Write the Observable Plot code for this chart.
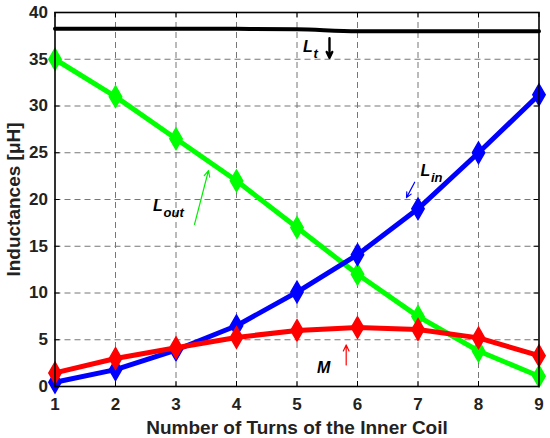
<!DOCTYPE html>
<html>
<head>
<meta charset="utf-8">
<script src="https://cdn.jsdelivr.net/npm/d3@7"></script>
<script src="https://cdn.jsdelivr.net/npm/@observablehq/plot@0.6"></script>
<style>
  html, body { margin: 0; padding: 0; background: #fff; }
  #chart { width: 550px; height: 438px; }
</style>
</head>
<body>
<div id="chart"></div>
<script>
// ---- data ----
const turns = [1, 2, 3, 4, 5, 6, 7, 8, 9];
const Lt   = [38.25, 38.25, 38.25, 38.25, 38.2, 38.0, 38.0, 38.0, 38.0];
const Lout = [35.0, 31.0, 26.5, 22.0, 17.0, 12.0, 7.5, 3.8, 1.1];
const Lin  = [0.45, 1.8, 3.9, 6.5, 10.1, 14.1, 19.0, 25.0, 31.2];
const M    = [1.45, 3.0, 4.15, 5.25, 6.0, 6.3, 6.1, 5.2, 3.3];

const xTicks = [1, 2, 3, 4, 5, 6, 7, 8, 9];
const yTicks = [0, 5, 10, 15, 20, 25, 30, 35, 40];
const xTitle = "Number of Turns of the Inner Coil";
const yTitle = "Inductances [\u03bcH]";

// annotation labels: main letter, subscript, anchor point (data units)
const labels = [
  {main: "L", sub: "t",   x: 5.10, y: 35.75},
  {main: "L", sub: "out", x: 2.62, y: 18.82},
  {main: "L", sub: "in",  x: 7.04, y: 22.46},
  {main: "M", sub: "",    x: 5.33, y: 1.47}
];
const arrows = [
  {x1: 5.537, y1: 37.25, x2: 5.537, y2: 35.15, color: "#000000", w: 2.4},
  {x1: 3.306, y1: 17.33, x2: 3.537, y2: 23.1,  color: "#00ee00", w: 1.2},
  {x1: 6.945, y1: 21.85, x2: 6.81,  y2: 20.2,  color: "#0000ff", w: 1.2},
  {x1: 5.813, y1: 2.3,   x2: 5.813, y2: 4.45,  color: "#ff0000", w: 1.2}
];

const series = (vals) => turns.map((t, i) => ({x: t, y: vals[i]}));
const dLt = series(Lt), dLout = series(Lout), dLin = series(Lin), dM = series(M);

const W = 550, H = 438;
const mL = 54.5, mR = 11.5, mT = 12, mB = 52;
const pxX = 8 / (W - mL - mR);   // data units per pixel, x
const pxY = 40 / (H - mT - mB);  // data units per pixel, y
const tickLenY = 5 * pxY;
const tickLenX = 5 * pxX;

const font = "'Liberation Sans', Arial, Helvetica, sans-serif";

const chart = Plot.plot({
  width: W, height: H,
  marginLeft: mL, marginRight: mR, marginTop: mT, marginBottom: mB,
  style: {fontFamily: font, background: "#fff", overflow: "visible"},
  x: {domain: [1, 9]},
  y: {domain: [0, 40]},
  marks: [
    Plot.gridX(xTicks.slice(1, -1), {stroke: "#777", strokeOpacity: 1, strokeWidth: 1, strokeDasharray: "6,4"}),
    Plot.gridY(yTicks.slice(1, -1), {stroke: "#777", strokeOpacity: 1, strokeWidth: 1, strokeDasharray: "6,4"}),
    // inward ticks on all four sides
    Plot.ruleX(xTicks, {x: d => d, y1: 0, y2: tickLenY, stroke: "#000", strokeWidth: 1}),
    Plot.ruleX(xTicks, {x: d => d, y1: 40, y2: 40 - tickLenY, stroke: "#000", strokeWidth: 1}),
    Plot.ruleY(yTicks, {y: d => d, x1: 1, x2: 1 + tickLenX, stroke: "#000", strokeWidth: 1}),
    Plot.ruleY(yTicks, {y: d => d, x1: 9, x2: 9 - tickLenX, stroke: "#000", strokeWidth: 1}),
    Plot.axisX(xTicks, {anchor: "bottom", tickSize: 0, tickPadding: 11, fontSize: 17, fontWeight: "bold", fill: "#222", label: null}),
    Plot.axisY(yTicks, {anchor: "left", tickSize: 0, tickPadding: 7, fontSize: 17, fontWeight: "bold", fill: "#222", label: null}),
    // series
    Plot.line(dLt, {x: "x", y: "y", stroke: "#000", strokeWidth: 4, curve: "monotone-x"}),
    Plot.line(dLout, {x: "x", y: "y", stroke: "#00ff00", strokeWidth: 5}),
    Plot.dot(dLout, {x: "x", y: "y", symbol: "diamond", r: 6.5, fill: "#00ff00", stroke: "#00ff00"}),
    Plot.line(dLin, {x: "x", y: "y", stroke: "#0000ff", strokeWidth: 5}),
    Plot.dot(dLin, {x: "x", y: "y", symbol: "diamond", r: 6.5, fill: "#0000ff", stroke: "#0000ff"}),
    Plot.line(dM, {x: "x", y: "y", stroke: "#ff0000", strokeWidth: 5}),
    Plot.dot(dM, {x: "x", y: "y", symbol: "diamond", r: 6.5, fill: "#ff0000", stroke: "#ff0000"}),
    // annotations
    Plot.arrow(arrows, {x1: "x1", y1: "y1", x2: "x2", y2: "y2", stroke: "color", strokeWidth: "w", headLength: 10, headAngle: 50}),
    Plot.text(labels, {x: "x", y: "y", text: "main", textAnchor: "start", lineAnchor: "bottom", fontSize: 16, fontWeight: "bold", fontStyle: "italic", fill: "#000"}),
    Plot.text(labels, {x: "x", y: "y", text: "sub", textAnchor: "start", lineAnchor: "bottom", fontSize: 13, fontWeight: "bold", fontStyle: "italic", fill: "#000", dx: 10.5, dy: 6}),
    // axis titles
    Plot.text([xTitle], {frameAnchor: "bottom", textAnchor: "middle", lineAnchor: "bottom", dy: 47, fontSize: 19, fontWeight: "bold", fill: "#222"}),
    Plot.text([yTitle], {x: () => 1 - 41 * pxX, y: () => 20, textAnchor: "middle", lineAnchor: "middle", rotate: -90, fontSize: 19, fontWeight: "bold", fill: "#222"}),
    Plot.frame({stroke: "#000", strokeWidth: 1.6})
  ]
});
document.getElementById("chart").appendChild(chart);
</script>
</body>
</html>
